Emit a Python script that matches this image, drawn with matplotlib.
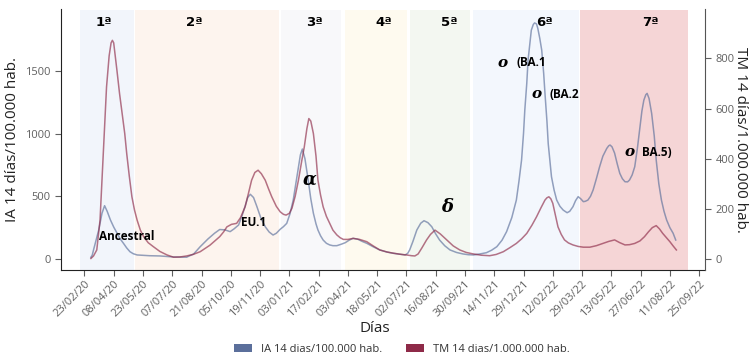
import numpy as np
import pandas as pd
import matplotlib
matplotlib.use("Agg")
import matplotlib.pyplot as plt
import matplotlib.dates as mdates
from matplotlib.patches import Patch

plt.rcParams['font.family'] = ['Open Sans', 'DejaVu Sans']

# days counted from 23/02/2020
inicio = pd.Timestamp('2020-02-23')

ia_dias = [10, 12, 14, 18, 22, 27, 31, 35, 40, 45, 50, 55, 60, 65, 70, 75, 81, 100, 116, 137, 157,
           168, 178, 190, 200, 208, 216, 224, 230, 237, 242, 247, 251, 255, 260, 265, 271, 278,
           284, 290, 295, 301, 306, 311, 316, 321, 325, 329, 332, 335, 339, 344, 348, 352, 356,
           359, 363, 367, 372, 377, 382, 388, 395, 401, 407, 413, 420, 427, 434, 444, 454, 465,
           475, 485, 493, 497, 500, 505, 511, 517, 522, 528, 534, 540, 546, 554, 562, 572, 582,
           590, 598, 608, 618, 626, 634, 642, 649, 657, 664, 668, 672, 675, 677, 680, 682, 685,
           687, 690, 692, 695, 697, 700, 703, 706, 708, 711, 713, 716, 718, 722, 726, 731, 736,
           742, 746, 751, 755, 759, 763, 767, 770, 774, 778, 782, 787, 792, 797, 803, 806, 808,
           811, 815, 819, 823, 827, 831, 835, 838, 842, 846, 850, 854, 857, 860, 863, 865, 868,
           872, 876, 879, 883, 887, 891, 895, 900, 905, 909]
ia_valores = [14, 30, 72, 150, 231, 364, 425, 380, 311, 255, 207, 160, 125, 88, 58, 42, 32, 26, 24, 16, 14,
              40, 98, 160, 205, 235, 232, 218, 240, 271, 340, 420, 490, 516, 490, 420, 330, 257,
              215, 191, 205, 237, 258, 284, 360, 470, 600, 733, 830, 877, 800, 630, 480, 364, 280,
              231, 185, 151, 125, 112, 106, 106, 118, 130, 150, 165, 158, 140, 125, 97, 72, 55,
              45, 38, 32, 45, 72, 140, 231, 285, 305, 290, 257, 200, 151, 105, 72, 52, 40,
              34, 32, 40, 50, 70, 98, 150, 218, 330, 470, 620, 789, 1000, 1188, 1400, 1586, 1730,
              1825, 1870, 1883, 1875, 1839, 1760, 1666, 1480, 1321, 1100, 920, 760, 656, 550, 470, 420, 390,
              369, 380, 417, 465, 497, 480, 457, 460, 470, 500, 550, 640, 736, 820, 882, 903, 909,
              895, 845, 760, 683, 640, 616, 615, 630, 670, 736, 880, 1054, 1180, 1267, 1310, 1321, 1280,
              1161, 980, 789, 600, 470, 380, 311, 250, 205, 151]

tm_dias = [10, 14, 19, 24, 29, 34, 38, 41, 43, 45, 50, 54, 58, 62, 65, 69, 73, 77, 81, 86, 91,
           98, 106, 116, 127, 137, 147, 157, 167, 178, 193, 208, 214, 219, 226, 234, 240, 247,
           252, 257, 262, 267, 272, 278, 283, 288, 295, 301, 306, 310, 315, 319, 324, 329, 334,
           338, 342, 345, 348, 352, 356, 359, 363, 367, 372, 377, 382, 388, 393, 398, 405, 413,
           423, 434, 444, 454, 465, 475, 485, 495, 503, 508, 513, 519, 526, 532, 539, 547, 557,
           567, 577, 587, 598, 610, 623, 633, 644, 654, 664, 672, 680, 688, 695, 702, 708, 711,
           714, 717, 720, 724, 728, 733, 738, 744, 751, 759, 767, 777, 787, 797, 806, 815, 823,
           831, 838, 846, 854, 861, 867, 873, 879, 884, 889, 895, 900, 905, 910]
tm_valores = [2, 12, 36, 155, 421, 686, 810, 862, 872, 862, 752, 660, 580, 500, 421, 330, 248, 195, 155, 115, 89,
              65, 49, 30, 16, 7, 8, 12, 18, 29, 55, 89, 108, 128, 138, 142, 165, 208,
              260, 314, 345, 354, 340, 314, 280, 248, 210, 188, 178, 175, 182, 202, 250, 314, 390,
              447, 520, 560, 550, 500, 410, 314, 255, 208, 170, 142, 115, 96, 85, 78, 78, 82,
              78, 69, 52, 36, 28, 23, 19, 16, 13, 12, 20, 45, 76, 98, 115, 100, 76,
              52, 36, 26, 20, 15, 13, 18, 29, 45, 62, 80, 102, 135, 168, 205, 235, 244,
              248, 240, 222, 175, 128, 98, 76, 64, 56, 50, 47, 47, 53, 62, 70, 76, 65,
              56, 57, 62, 72, 89, 108, 125, 133, 120, 102, 84, 69, 52, 36]

olas = ['1ª', '2ª', '3ª', '4ª', '5ª', '6ª', '7ª']
olas_inicio = ['2020-02-16', '2020-05-11', '2020-12-21', '2021-03-30', '2021-07-08', '2021-10-13', '2022-03-26']
olas_fin = ['2020-05-09', '2020-12-18', '2021-03-23', '2021-07-03', '2021-10-08', '2022-03-24', '2022-09-08']
olas_color = ['#f2f5fb', '#fdf4ee', '#f8f8fa', '#fefaef', '#f3f7f1', '#f3f7fd', '#f5d5d6']

fechas_ia = inicio + pd.to_timedelta(ia_dias, unit='D')
fechas_tm = inicio + pd.to_timedelta(tm_dias, unit='D')

W, H = 754, 360
fig = plt.figure(figsize=(W / 100, H / 100), dpi=100)
ax = fig.add_axes([61 / W, 1 - 270 / H, (705 - 61) / W, (270 - 9) / H])
ax2 = ax.twinx()


def px(x, y):
    return x / W, 1 - y / H


# wave bands
for i in range(len(olas)):
    ax.axvspan(pd.Timestamp(olas_inicio[i]), pd.Timestamp(olas_fin[i]), ymin=0, ymax=0.996,
               color=olas_color[i], lw=0, zorder=0)

azul = '#5b6f9b'
rojo = '#8e2a48'
ax.plot(fechas_ia, ia_valores, color=azul, lw=1.1, alpha=0.65, zorder=3)
ax2.plot(fechas_tm, tm_valores, color=rojo, lw=1.1, alpha=0.65, zorder=3)

ax.set_ylim(-88, 1994)
ax2.set_ylim(-44, 997)
ax.set_xlim(pd.Timestamp('2020-01-18'), pd.Timestamp('2022-10-04'))

ax.set_yticks([0, 500, 1000, 1500])
ax2.set_yticks([0, 200, 400, 600, 800])
ticks = pd.date_range('2020-02-23', '2022-09-25', freq='45D')
ax.set_xticks(ticks)
ax.xaxis.set_major_formatter(mdates.DateFormatter('%d/%m/%y'))
for lab in ax.get_xticklabels():
    lab.set_rotation(45)
    lab.set_ha('right')
    lab.set_rotation_mode('anchor')

for a in (ax, ax2):
    a.spines['top'].set_visible(False)
    a.tick_params(colors='#606060', labelsize=8, length=4, width=0.8)
ax.spines['right'].set_visible(False)
ax2.spines['left'].set_visible(False)
ax2.spines['bottom'].set_visible(False)
ax.spines['left'].set_color('#222222')
ax.spines['bottom'].set_color('#222222')
ax2.spines['right'].set_color('#555555')
ax.tick_params(axis='x', pad=2)

ax.set_ylabel('IA 14 días/100.000 hab.', fontsize=11, color='#222222', labelpad=4)
ax2.set_ylabel('TM 14 días/1.000.000 hab.', fontsize=11, color='#222222', rotation=270,
               labelpad=10)
fig.text(*px(375, 329), 'Días', fontsize=11, color='#222222', ha='center', va='center')

# wave labels
olas_x = [104, 194, 314, 384, 449, 544, 650]
for lab, x in zip(olas, olas_x):
    fig.text(*px(x, 22), lab, fontsize=9.5, fontweight='bold', ha='center', va='center',
             family=['DejaVu Sans'])

# variant annotations
fig.text(*px(127, 236), 'Ancestral', fontsize=8.5, fontweight='bold', ha='center', va='center')
fig.text(*px(254, 222), 'EU.1', fontsize=8.5, fontweight='bold', ha='center', va='center')
serif = dict(family=['DejaVu Serif'], fontweight='bold', style='italic', ha='center', va='center')
fig.text(*px(310, 180), 'α', fontsize=13, **serif)
fig.text(*px(447, 207), 'δ', fontsize=13, **serif)
fig.text(*px(503, 63), 'ο', fontsize=11, **serif)
fig.text(*px(531, 63), '(BA.1', fontsize=8.5, fontweight='bold', ha='center', va='center')
fig.text(*px(537, 94), 'ο', fontsize=11, **serif)
fig.text(*px(564, 94), '(BA.2', fontsize=8.5, fontweight='bold', ha='center', va='center')
fig.text(*px(630, 152), 'ο', fontsize=11, **serif)
fig.text(*px(657, 152), 'BA.5)', fontsize=8.5, fontweight='bold', ha='center', va='center')

handles = [Patch(facecolor=azul, label='IA 14 dias/100.000 hab.'),
           Patch(facecolor=rojo, label='TM 14 dias/1.000.000 hab.')]
fig.legend(handles=handles, loc='center', bbox_to_anchor=px(402, 349), ncol=2, frameon=False,
           fontsize=8, handlelength=1.6, handleheight=0.7, columnspacing=2.2, handletextpad=0.8,
           labelcolor='#333333')

fig.savefig('out.png', dpi=100)
